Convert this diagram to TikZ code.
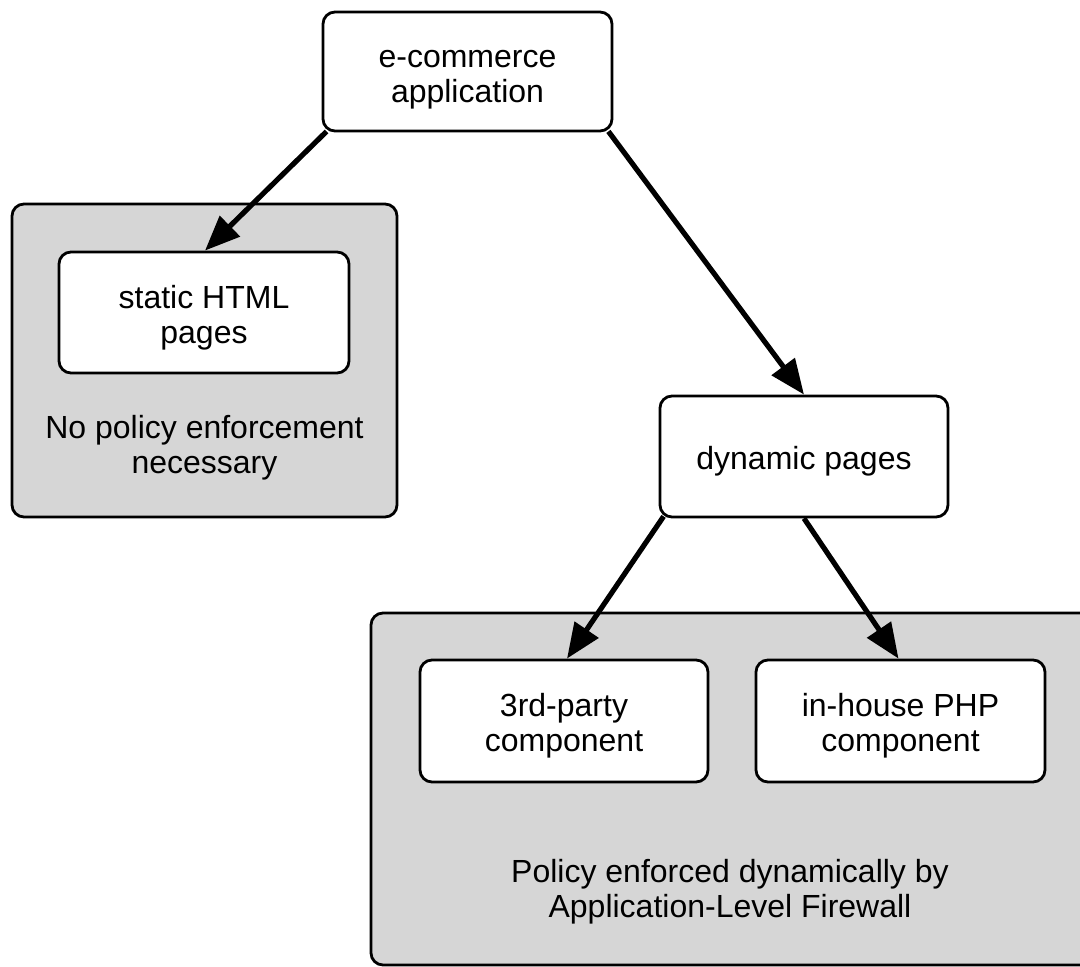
\documentclass[tikz,border=0pt]{standalone}
\usepackage{fontspec}
\setmainfont{Liberation Sans}
\usetikzlibrary{arrows.meta}
\definecolor{panelgray}{RGB}{214,214,214}
\newcommand\tstrut{\rule{0pt}{18.5pt}}
\newcommand\bstrut{\rule[-5.25pt]{0pt}{5.25pt}}
\begin{document}
\begin{tikzpicture}[x=0.5pt,y=-0.5pt,
  every node/.style={font=\fontsize{16}{17.5}\selectfont, align=center},
  box/.style={draw, line width=1.4pt, rounded corners=6pt, fill=white, inner sep=0pt},
  panel/.style={draw, line width=1.4pt, rounded corners=6pt, fill=panelgray},
  arr/.style={line width=2.6pt, -{Triangle[length=17.5pt,width=14pt]}},
  note/.style={inner sep=0pt}]
\useasboundingbox (0,0) rectangle (1080,967);
\begin{scope}
\clip (0,0) rectangle (1080,967);
% panels
\draw[panel] (12,204) rectangle (397,517);
\draw[panel] (371,613) rectangle (1110,965);
\end{scope}
% nodes
\node[box, minimum width=144.5pt, minimum height=59.5pt] (app) at (467.5,71.5) {\tstrut e-commerce\\application\bstrut};
\node[box, minimum width=145pt, minimum height=60.5pt] (static) at (204,312.5) {\tstrut static HTML\\pages\bstrut};
\node[note] (note1) at (204.5,443) {\tstrut No policy enforcement\\necessary\bstrut};
\node[box, minimum width=144pt, minimum height=60.5pt] (dyn) at (804,456.5) {\tstrut dynamic pages\bstrut};
\node[box, minimum width=144pt, minimum height=61pt] (third) at (564,721) {\tstrut 3rd-party\\component\bstrut};
\node[box, minimum width=144.5pt, minimum height=61pt] (inhouse) at (900.5,721) {\tstrut in-house PHP\\component\bstrut};
\node[note] (note2) at (730,887) {\tstrut Policy enforced dynamically by\\Application-Level Firewall\bstrut};
% connectors
\draw[arr] ([xshift=2.5pt,yshift=0.5pt]app.south west) -- ([xshift=0.5pt]static.north);
\draw[arr] ([xshift=-2.5pt,yshift=0.5pt]app.south east) -- (dyn.north);
\draw[arr] ([xshift=2.5pt,yshift=1pt]dyn.south west) -- ([xshift=1.5pt]third.north);
\draw[arr] (dyn.south) -- ([xshift=-1pt]inhouse.north);
\end{tikzpicture}
\end{document}
